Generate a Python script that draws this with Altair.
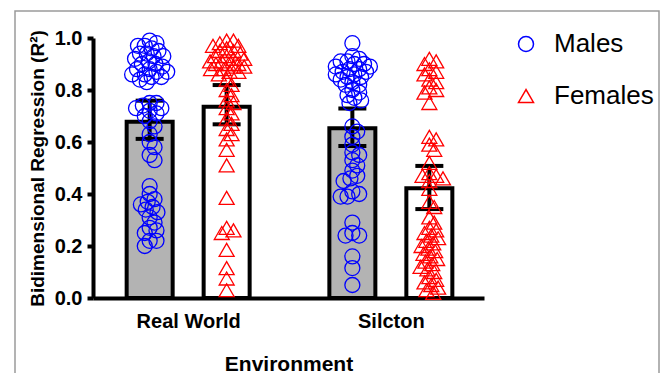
import altair as alt
import pandas as pd

environments = ["Real World", "Silcton"]
sexes = ["Males", "Females"]

rw_males = [0.99, 0.98, 0.97, 0.97, 0.96, 0.95, 0.94, 0.94, 0.93, 0.93, 0.92, 0.91, 0.90, 0.90,
            0.89, 0.88, 0.88, 0.87, 0.87, 0.86, 0.86, 0.85, 0.85, 0.84, 0.83,
            0.75, 0.75, 0.74, 0.73, 0.73, 0.72, 0.71,
            0.70, 0.68, 0.66, 0.63, 0.60, 0.58, 0.55, 0.53,
            0.43, 0.40, 0.38, 0.37, 0.36, 0.35, 0.34, 0.33, 0.31, 0.29, 0.27, 0.26, 0.25, 0.22, 0.22, 0.20]
rw_females = [0.99, 0.99, 0.98, 0.97, 0.97, 0.96, 0.95, 0.95, 0.94, 0.93, 0.93, 0.92, 0.92, 0.91,
              0.91, 0.90, 0.90, 0.90, 0.89, 0.89, 0.88, 0.88, 0.87, 0.87, 0.86,
              0.84, 0.82, 0.80, 0.78, 0.76, 0.75, 0.73, 0.71, 0.69, 0.67, 0.65, 0.63, 0.61, 0.57, 0.51,
              0.385, 0.27, 0.26, 0.25, 0.185, 0.115, 0.075, 0.03]
sil_males = [0.98,
             0.93, 0.92, 0.91, 0.91, 0.90, 0.90, 0.89, 0.89, 0.88, 0.88, 0.87, 0.87, 0.86, 0.86,
             0.85, 0.85, 0.84, 0.83, 0.82, 0.82,
             0.80, 0.79, 0.78, 0.77, 0.76, 0.75,
             0.66, 0.64, 0.62, 0.59, 0.56, 0.55, 0.53, 0.51, 0.49, 0.47, 0.46, 0.45, 0.41, 0.40, 0.39, 0.39,
             0.29, 0.25, 0.24, 0.24, 0.16, 0.115, 0.05]
sil_females = [0.92, 0.91, 0.90, 0.88, 0.87, 0.86, 0.84, 0.83, 0.81, 0.80, 0.79, 0.75,
               0.62, 0.61, 0.59, 0.57, 0.52, 0.48, 0.47, 0.47, 0.46, 0.45, 0.42, 0.37, 0.35,
               0.31, 0.29, 0.27, 0.26, 0.25, 0.24, 0.23, 0.22, 0.21, 0.20, 0.19, 0.18, 0.17, 0.16,
               0.15, 0.14, 0.13, 0.12, 0.11, 0.10, 0.08, 0.07, 0.06, 0.05, 0.04, 0.03, 0.02]

bar_means = [0.678, 0.736, 0.653, 0.422]
ci_low = [0.612, 0.668, 0.585, 0.342]
ci_high = [0.759, 0.819, 0.729, 0.508]

GROUP_GAP = 2.633
PX_PER_UNIT = 79.0
PX_PER_R2 = 260.0


def swarm(values, d=7.0, max_off=18):
    placed = []
    offs = []
    cands = [0]
    for k in range(1, max_off + 1):
        cands += [k, -k]
    for v in values:
        y = v * PX_PER_R2
        chosen = None
        best_gap, best_o = -1, 0
        for o in cands:
            md = min([((o - po) ** 2 + (y - py) ** 2) ** 0.5 for po, py in placed] or [99])
            if md >= d:
                chosen = o
                break
            if md > best_gap:
                best_gap, best_o = md, o
        if chosen is None:
            chosen = best_o
        placed.append((chosen, y))
        offs.append(chosen)
    return offs


groups = [(0, 0, rw_males), (0, 1, rw_females), (1, 0, sil_males), (1, 1, sil_females)]
rows = []
bar_rows = []
for i, (e, s, vals) in enumerate(groups):
    center = e * GROUP_GAP + s
    for v, o in zip(vals, swarm(vals)):
        rows.append({"env": environments[e], "sex": sexes[s], "r2": v, "pos": center + o / PX_PER_UNIT})
    bar_rows.append({"env": environments[e], "sex": sexes[s], "pos": center,
                     "mean": bar_means[i], "lo": ci_low[i], "hi": ci_high[i]})

pts = pd.DataFrame(rows)
bars = pd.DataFrame(bar_rows)

FONT = "Liberation Sans"
label_expr = "datum.value < {} ? '{}' : '{}'".format(GROUP_GAP / 2 + 0.5, environments[0], environments[1])

xscale = alt.Scale(domain=[-0.671, 4.278], nice=False, zero=False)
yscale = alt.Scale(domain=[0, 1], nice=False)

xaxis = alt.Axis(values=[0.5, GROUP_GAP + 0.5], labelExpr=label_expr, ticks=False, grid=False,
                 domainColor="black", domainWidth=4, labelFont=FONT, labelFontSize=20,
                 labelFontWeight="bold", labelColor="black", labelPadding=13,
                 title="Environment", titleFont=FONT, titleFontSize=21, titleFontWeight="bold",
                 titleColor="black", titlePadding=22)
yaxis = alt.Axis(values=[0, 0.2, 0.4, 0.6, 0.8, 1.0], format=".1f", grid=False,
                 domainColor="black", domainWidth=4, tickColor="black", tickWidth=4, tickSize=6,
                 labelFont=FONT, labelFontSize=20, labelFontWeight="bold", labelColor="black",
                 labelPadding=5, title="Bidimensional Regression (R²)", titleFont=FONT,
                 titleFontSize=19, titleFontWeight="bold", titleColor="black", titlePadding=7)

bar_layer = alt.Chart(bars).mark_bar(size=46, stroke="black", strokeWidth=4).encode(
    x=alt.X("pos:Q", scale=xscale, axis=xaxis),
    y=alt.Y("mean:Q", scale=yscale, axis=yaxis),
    fill=alt.condition(alt.datum.sex == sexes[0], alt.value("#b3b3b3"), alt.value("white")),
)
err_rule = alt.Chart(bars).mark_rule(color="black", strokeWidth=4, opacity=1).encode(
    x="pos:Q", y="lo:Q", y2="hi:Q")
cap_lo = alt.Chart(bars).mark_tick(color="black", thickness=4, size=28, orient="horizontal", opacity=1).encode(
    x="pos:Q", y="lo:Q")
cap_hi = alt.Chart(bars).mark_tick(color="black", thickness=4, size=28, orient="horizontal", opacity=1).encode(
    x="pos:Q", y="hi:Q")

legend = alt.Legend(title=None, orient="none", legendX=420, legendY=-7, labelFont=FONT,
                    labelFontSize=26, labelColor="black", symbolSize=225, symbolStrokeWidth=1.5,
                    labelOffset=15, rowPadding=26, symbolFillColor="transparent")
point_layer = alt.Chart(pts).mark_point(filled=False, size=225, strokeWidth=1.3, opacity=1).encode(
    x="pos:Q", y="r2:Q",
    color=alt.Color("sex:N", scale=alt.Scale(domain=sexes, range=["#0000ff", "#ff0000"]), legend=legend),
    shape=alt.Shape("sex:N", scale=alt.Scale(domain=sexes, range=["circle", "triangle-up"]), legend=legend),
)

frame = alt.Chart(pd.DataFrame({"k": [0]})).mark_rect(fillOpacity=0, stroke="#9a9a9a", strokeWidth=1.5).encode(
    x=alt.value(-78), x2=alt.value(566), y=alt.value(-27), y2=alt.value(345))

chart = alt.layer(frame, bar_layer, err_rule, cap_lo, cap_hi, point_layer).properties(
    width=391, height=260,
    autosize=alt.AutoSizeParams(type="none"),
    padding={"left": 85, "top": 30, "right": 176, "bottom": 75},
).configure_view(stroke=None)

chart.save("out.html", embed_options={"renderer": "svg", "actions": False})
